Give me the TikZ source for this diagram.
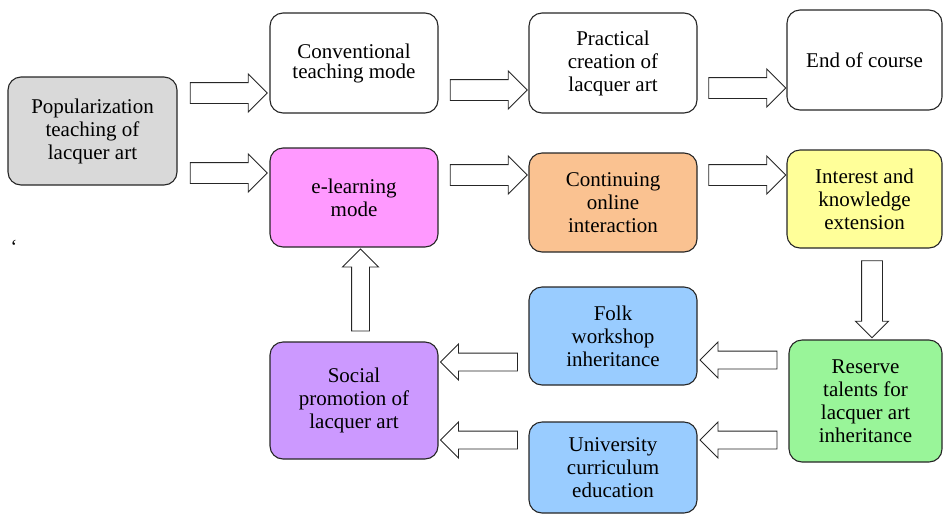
\documentclass[tikz,border=0pt]{standalone}
\usepackage{fontspec}
\setmainfont{Liberation Serif}
\newfontfamily\boxfont{Liberation Serif}
\usepackage{tikz}
\usetikzlibrary{positioning, shapes.arrows}
\definecolor{startgray}{HTML}{D9D9D9}
\definecolor{elpink}{HTML}{FF99FF}
\definecolor{onorange}{HTML}{FAC291}
\definecolor{extyellow}{HTML}{FFFF99}
\definecolor{resgreen}{HTML}{99F599}
\definecolor{inhblue}{HTML}{99CCFF}
\definecolor{socpurple}{HTML}{CC99FF}
\tikzset{
  stagebox/.style  = {draw=black!85, line width=1.1pt, rounded corners=13pt, align=center,
                      inner sep=2pt, font=\boxfont\fontsize{21}{23}\selectfont},
  plainbox/.style  = {stagebox, fill=white},
  graybox/.style   = {stagebox, fill=startgray},
  pinkbox/.style   = {stagebox, fill=elpink},
  orangebox/.style = {stagebox, fill=onorange},
  yellowbox/.style = {stagebox, fill=extyellow},
  greenbox/.style  = {stagebox, fill=resgreen},
  bluebox/.style   = {stagebox, fill=inhblue},
  purplebox/.style = {stagebox, fill=socpurple},
  fatarrow/.style  = {single arrow, draw=black!85, line width=0.9pt, fill=white,
                      inner xsep=0pt, inner ysep=10pt, minimum height=77pt,
                      single arrow head extend=8.5pt},
  thinarrow/.style = {fatarrow, inner ysep=8.5pt, single arrow head extend=9pt}
}
\begin{document}
\begin{tikzpicture}[x=1pt, y=-1pt]
  \useasboundingbox (0,0) rectangle (944,515);

  % ── Top row: conventional route ─────────────────────────────
  \node[graybox, minimum width=169pt, minimum height=108pt] (pop) at (92.5,131)
    {Popularization\\teaching of\\lacquer art};
  \node[plainbox, minimum width=168pt, minimum height=100pt] (conv) at (354,63)
    {Conventional\\[-3pt]teaching mode};
  \node[plainbox, minimum width=168pt, minimum height=100pt] (prac) at (613,63)
    {Practical\\creation of\\lacquer art};
  \node[plainbox, minimum width=155pt, minimum height=100pt] (endc) at (864.5,60)
    {End of course};

  % ── Second row: e-learning route ────────────────────────────
  \node[pinkbox, minimum width=168pt, minimum height=99pt] (elearn) at (354,197.5)
    {e-learning\\mode};
  \node[orangebox, minimum width=168pt, minimum height=99pt] (cont) at (613,202.5)
    {Continuing\\online\\interaction};
  \node[yellowbox, minimum width=155pt, minimum height=98pt] (intr) at (864.5,199)
    {Interest and\\knowledge\\extension};

  % ── Lower part: inheritance loop ────────────────────────────
  \node[greenbox, minimum width=153pt, minimum height=122pt] (reserve) at (865.5,401)
    {Reserve\\talents for\\lacquer art\\inheritance};
  \node[bluebox, minimum width=168pt, minimum height=98pt] (folk) at (613,336)
    {Folk\\workshop\\inheritance};
  \node[bluebox, minimum width=168pt, minimum height=91pt] (univ) at (613,467.5)
    {University\\curriculum\\education};
  \node[purplebox, minimum width=168pt, minimum height=117pt] (social) at (354,400.5)
    {Social\\promotion of\\lacquer art};

  \node[font=\boxfont\fontsize{20}{23}\selectfont] (tick) at (14,247) {‘};

  % ── Block arrows ────────────────────────────────────────────
  \path (pop.east |- 0,93)  -- (conv.west |- 0,93)  node[midway, fatarrow] (a1) {};
  \path (pop.east |- 0,173) -- (elearn.west |- 0,173) node[midway, fatarrow] (a2) {};
  \path (conv.east |- 0,90) -- (prac.west |- 0,90)  node[midway, fatarrow] (a3) {};
  \path (prac.east |- 0,88) -- (endc.west |- 0,88)  node[midway, fatarrow] (a4) {};
  \path (elearn.east |- 0,175) -- (cont.west |- 0,175) node[midway, fatarrow] (a5) {};
  \path (cont.east |- 0,175) -- (intr.west |- 0,175) node[midway, fatarrow] (a6) {};
  \path (intr.south -| 872,0) -- (reserve.north -| 872,0)
    node[midway, fatarrow, rotate=-90, single arrow head extend=6pt] (a7) {};
  \path (reserve.west |- 0,360) -- (folk.east |- 0,360)
    node[midway, thinarrow, rotate=180] (a8) {};
  \path (reserve.west |- 0,440) -- (univ.east |- 0,440)
    node[midway, thinarrow, rotate=180] (a9) {};
  \path (folk.west |- 0,362) -- (social.east |- 0,362)
    node[midway, thinarrow, rotate=180] (a10) {};
  \path (univ.west |- 0,440) -- (social.east |- 0,440)
    node[midway, thinarrow, rotate=180] (a11) {};
  \path (social.north -| 360.5,0) -- (elearn.south -| 360.5,0)
    node[midway, thinarrow, rotate=90, minimum height=82pt] (a12) {};

\end{tikzpicture}
\end{document}
